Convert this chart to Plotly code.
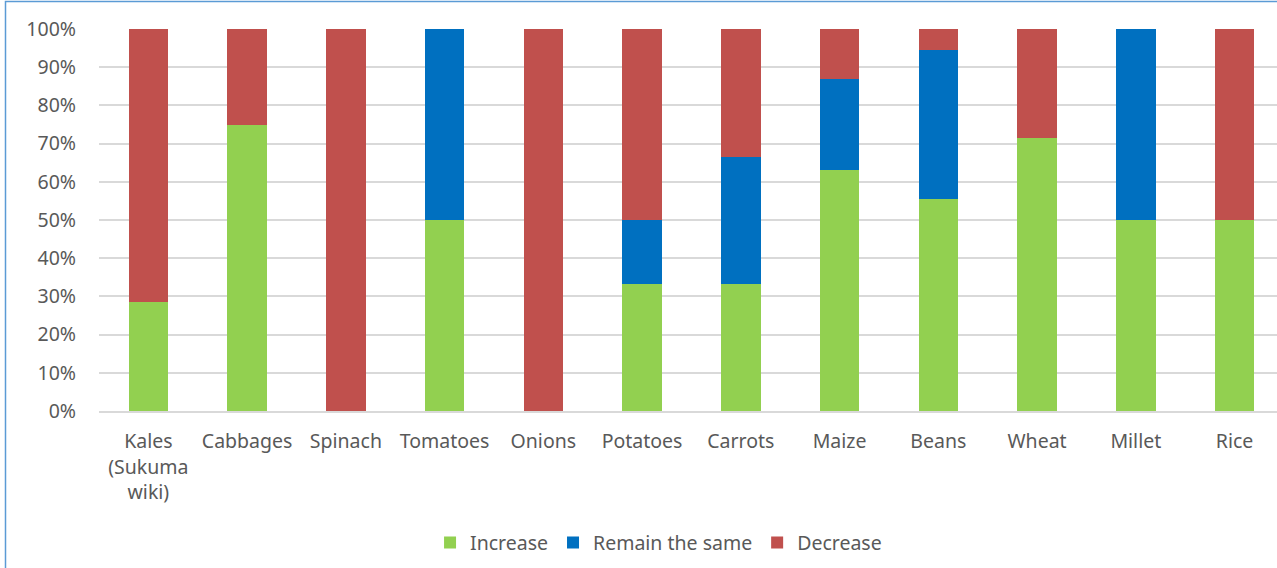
import plotly.graph_objects as go

categories = ["Kales<br>(Sukuma<br>wiki)", "Cabbages", "Spinach", "Tomatoes", "Onions",
              "Potatoes", "Carrots", "Maize", "Beans", "Wheat", "Millet", "Rice"]
increase = [28.6, 75.0, 0.0, 50.0, 0.0, 33.3, 33.3, 63.2, 55.6, 71.4, 50.0, 50.0]
remain_same = [0.0, 0.0, 0.0, 50.0, 0.0, 16.7, 33.3, 23.7, 38.9, 0.0, 50.0, 0.0]
decrease = [71.4, 25.0, 100.0, 0.0, 100.0, 50.0, 33.4, 13.1, 5.5, 28.6, 0.0, 50.0]
y_ticks = list(range(0, 101, 10))
y_tick_text = [f"{v}%" for v in y_ticks]

W, H = 1277, 568
L, R, T, B = 99, 0, 29, 157
font = "Noto Sans, Open Sans, sans-serif"
text_col = "#595959"
fsize = 19.5

fig = go.Figure()
for name, vals, col in [("Increase", increase, "#92D050"),
                        ("Remain the same", remain_same, "#0070C0"),
                        ("Decrease", decrease, "#C0504D")]:
    fig.add_trace(go.Bar(x=categories, y=vals, name=name, marker_color=col,
                         marker_line_width=0, width=0.4))

# outer chart frame
pw = W - L - R
ph = H - T - B
fig.add_shape(type="rect", xref="paper", yref="paper",
              x0=(5.5 - L) / pw, x1=(W + 20 - L) / pw,
              y0=(H - B - (H + 20)) / ph, y1=(H - B - 1.5) / ph,
              line=dict(color="#5B9BD5", width=1.5), fillcolor="rgba(0,0,0,0)", layer="below")

fig.update_layout(
    width=W, height=H, barmode="stack",
    margin=dict(l=L, r=R, t=T, b=B),
    paper_bgcolor="white", plot_bgcolor="white",
    font=dict(family=font, size=fsize, color=text_col),
    bargap=0.6,
    legend=dict(orientation="h", x=0.475, xanchor="center", y=-0.345, yanchor="middle",
                font=dict(size=fsize, color=text_col), itemwidth=30, traceorder="normal"),
    xaxis=dict(range=[-0.5, 11.43], showline=True, linecolor="#d9d9d9", linewidth=1.5,
               ticks="", ticklabelstandoff=12, tickangle=0),
    yaxis=dict(range=[0, 100], tickvals=y_ticks, ticktext=y_tick_text, showgrid=True,
               gridcolor="#d9d9d9", gridwidth=1.5, zeroline=False, ticks="",
               ticklabelstandoff=22),
)

fig.write_html("out.html")
